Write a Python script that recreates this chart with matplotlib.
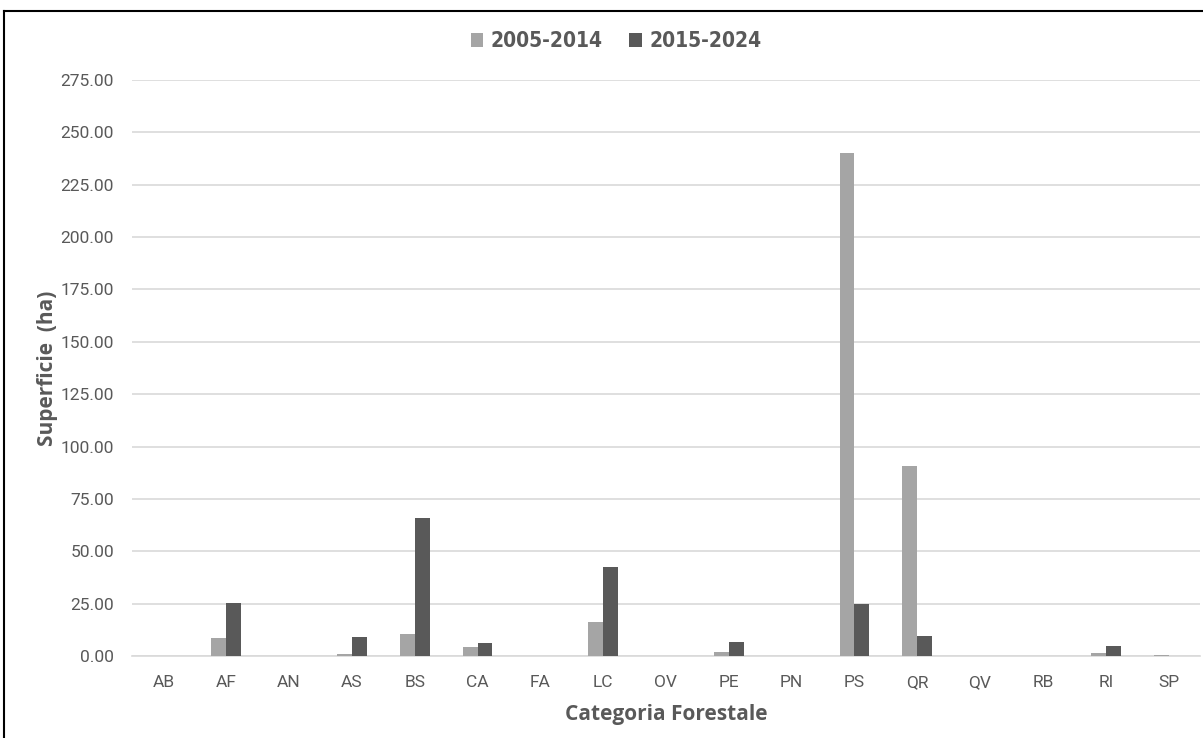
import matplotlib.pyplot as plt
import numpy as np
from matplotlib.lines import Line2D
from matplotlib.ticker import FormatStrFormatter

categories = ['AB', 'AF', 'AN', 'AS', 'BS', 'CA', 'FA', 'LC', 'OV',
              'PE', 'PN', 'PS', 'QR', 'QV', 'RB', 'RI', 'SP']
p2005_2014 = [0, 8.6, 0, 1.0, 10.6, 4.1, 0, 16.3, 0, 2.0, 0, 240.0, 90.8, 0, 0, 1.4, 0.5]
p2015_2024 = [0, 25.3, 0, 9.2, 65.9, 6.4, 0, 42.5, 0, 6.8, 0, 24.9, 9.6, 0, 0, 4.9, 0]
series_names = ['2005-2014', '2015-2024']

light = '#a5a5a5'
dark = '#595959'
text_col = '#595959'

fig = plt.figure(figsize=(12.03, 7.38), dpi=100)
ax = fig.add_axes([0.1097, 0.1111, 0.8878, 0.7805])

x = np.arange(len(categories))
w = 0.236
ax.bar(x - w / 2, p2005_2014, width=w, color=light, label=series_names[0], zorder=3)
ax.bar(x + w / 2, p2015_2024, width=w, color=dark, label=series_names[1], zorder=3)

ax.set_xlim(-0.5, len(categories) - 0.5)
ax.set_ylim(0, 275)
ax.set_yticks(np.arange(0, 276, 25))
ax.yaxis.set_major_formatter(FormatStrFormatter('%.2f'))
ax.set_xticks(x)
ax.set_xticklabels(categories)
ax.grid(axis='y', color='#d9d9d9', linewidth=1.2, zorder=0)
ax.tick_params(axis='both', length=0, labelsize=12.5, labelcolor=text_col)
ax.tick_params(axis='y', pad=13)
ax.tick_params(axis='x', pad=14)
for lab in ax.get_xticklabels() + ax.get_yticklabels():
    lab.set_family('Roboto')
for s in ['top', 'right', 'left']:
    ax.spines[s].set_visible(False)
ax.spines['bottom'].set_color('#d9d9d9')
ax.spines['bottom'].set_linewidth(1.2)

ax.set_ylabel('Superficie  (ha)', fontsize=15, fontweight='bold', color=text_col,
              family='Open Sans', labelpad=2)
ax.set_xlabel('Categoria Forestale', fontsize=15, fontweight='bold', color=text_col,
              family='Open Sans', labelpad=10)

leg = fig.legend(loc='center', bbox_to_anchor=(0.512, 0.944), ncol=2, frameon=False,
                 prop={'family': 'DejaVu Sans', 'stretch': 'condensed',
                       'weight': 'bold', 'size': 15},
                 handlelength=0.6, handleheight=0.7, handletextpad=0.35, columnspacing=1.3)
for t in leg.get_texts():
    t.set_color(text_col)

# border of the screenshot frame
fig.add_artist(Line2D([0.003, 0.003], [0.0, 0.985], color='black', linewidth=1.5))
fig.add_artist(Line2D([0.003, 1.0], [0.985, 0.985], color='black', linewidth=1.5))

fig.savefig('out.png', dpi=100)
